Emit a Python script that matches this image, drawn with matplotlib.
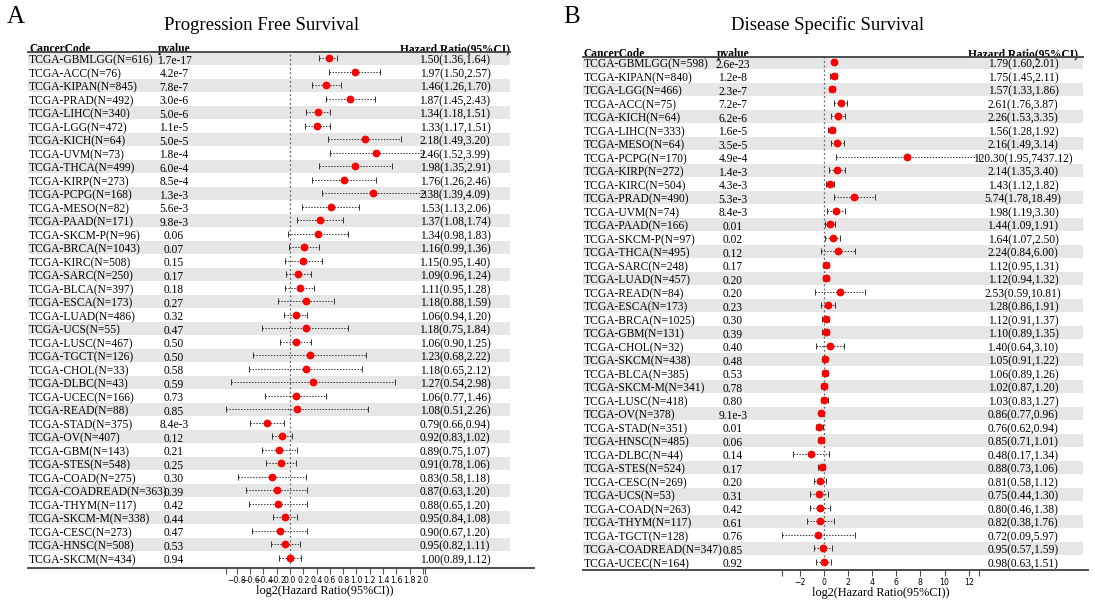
import numpy as np
import matplotlib
matplotlib.use("Agg")
import matplotlib.pyplot as plt
from matplotlib.ticker import MultipleLocator, FixedLocator
from matplotlib.transforms import blended_transform_factory

plt.rcParams['font.family'] = ['Liberation Serif', 'DejaVu Serif']

# ---------------- Panel A: Progression Free Survival ----------------
pfs_codes = ["GBMLGG", "ACC", "KIPAN", "PRAD", "LIHC", "LGG", "KICH", "UVM", "THCA", "KIRP",
             "PCPG", "MESO", "PAAD", "SKCM-P", "BRCA", "KIRC", "SARC", "BLCA", "ESCA", "LUAD",
             "UCS", "LUSC", "TGCT", "CHOL", "DLBC", "UCEC", "READ", "STAD", "OV", "GBM",
             "STES", "COAD", "COADREAD", "THYM", "SKCM-M", "CESC", "HNSC", "SKCM"]
pfs_n = [616, 76, 845, 492, 340, 472, 64, 73, 499, 273,
         168, 82, 171, 96, 1043, 508, 250, 397, 173, 486,
         55, 467, 126, 33, 43, 166, 88, 375, 407, 143,
         548, 275, 363, 117, 338, 273, 508, 434]
pfs_p = ["1.7e-17", "4.2e-7", "7.8e-7", "3.0e-6", "5.0e-6", "1.1e-5", "5.0e-5", "1.8e-4", "6.0e-4", "8.5e-4",
         "1.3e-3", "5.6e-3", "9.8e-3", "0.06", "0.07", "0.15", "0.17", "0.18", "0.27", "0.32",
         "0.47", "0.50", "0.50", "0.58", "0.59", "0.73", "0.85", "8.4e-3", "0.12", "0.21",
         "0.25", "0.30", "0.39", "0.42", "0.44", "0.47", "0.53", "0.94"]
pfs_hr = [1.50, 1.97, 1.46, 1.87, 1.34, 1.33, 2.18, 2.46, 1.98, 1.76,
          2.38, 1.53, 1.37, 1.34, 1.16, 1.15, 1.09, 1.11, 1.18, 1.06,
          1.18, 1.06, 1.23, 1.18, 1.27, 1.06, 1.08, 0.79, 0.92, 0.89,
          0.91, 0.83, 0.87, 0.88, 0.95, 0.90, 0.95, 1.00]
pfs_lo = [1.36, 1.50, 1.26, 1.45, 1.18, 1.17, 1.49, 1.52, 1.35, 1.26,
          1.39, 1.13, 1.08, 0.98, 0.99, 0.95, 0.96, 0.95, 0.88, 0.94,
          0.75, 0.90, 0.68, 0.65, 0.54, 0.77, 0.51, 0.66, 0.83, 0.75,
          0.78, 0.58, 0.63, 0.65, 0.84, 0.67, 0.82, 0.89]
pfs_hi = [1.64, 2.57, 1.70, 2.43, 1.51, 1.51, 3.20, 3.99, 2.91, 2.46,
          4.09, 2.06, 1.74, 1.83, 1.36, 1.40, 1.24, 1.28, 1.59, 1.20,
          1.84, 1.25, 2.22, 2.12, 2.98, 1.46, 2.26, 0.94, 1.02, 1.07,
          1.06, 1.18, 1.20, 1.20, 1.08, 1.20, 1.11, 1.12]

# ---------------- Panel B: Disease Specific Survival ----------------
dss_codes = ["GBMLGG", "KIPAN", "LGG", "ACC", "KICH", "LIHC", "MESO", "PCPG", "KIRP", "KIRC",
             "PRAD", "UVM", "PAAD", "SKCM-P", "THCA", "SARC", "LUAD", "READ", "ESCA", "BRCA",
             "GBM", "CHOL", "SKCM", "BLCA", "SKCM-M", "LUSC", "OV", "STAD", "HNSC", "DLBC",
             "STES", "CESC", "UCS", "COAD", "THYM", "TGCT", "COADREAD", "UCEC"]
dss_n = [598, 840, 466, 75, 64, 333, 64, 170, 272, 504,
         490, 74, 166, 97, 495, 248, 457, 84, 173, 1025,
         131, 32, 438, 385, 341, 418, 378, 351, 485, 44,
         524, 269, 53, 263, 117, 128, 347, 164]
dss_p = ["2.6e-23", "1.2e-8", "2.3e-7", "7.2e-7", "6.2e-6", "1.6e-5", "3.5e-5", "4.9e-4", "1.4e-3", "4.3e-3",
         "5.3e-3", "8.4e-3", "0.01", "0.02", "0.12", "0.17", "0.20", "0.20", "0.23", "0.30",
         "0.39", "0.40", "0.48", "0.53", "0.78", "0.80", "9.1e-3", "0.01", "0.06", "0.14",
         "0.17", "0.20", "0.31", "0.42", "0.61", "0.76", "0.85", "0.92"]
dss_hr = [1.79, 1.75, 1.57, 2.61, 2.26, 1.56, 2.16, 120.30, 2.14, 1.43,
          5.74, 1.98, 1.44, 1.64, 2.24, 1.12, 1.12, 2.53, 1.28, 1.12,
          1.10, 1.40, 1.05, 1.06, 1.02, 1.03, 0.86, 0.76, 0.85, 0.48,
          0.88, 0.81, 0.75, 0.80, 0.82, 0.72, 0.95, 0.98]
dss_lo = [1.60, 1.45, 1.33, 1.76, 1.53, 1.28, 1.49, 1.95, 1.35, 1.12,
          1.78, 1.19, 1.09, 1.07, 0.84, 0.95, 0.94, 0.59, 0.86, 0.91,
          0.89, 0.64, 0.91, 0.89, 0.87, 0.83, 0.77, 0.62, 0.71, 0.17,
          0.73, 0.58, 0.44, 0.46, 0.38, 0.09, 0.57, 0.63]
dss_hi = [2.01, 2.11, 1.86, 3.87, 3.35, 1.92, 3.14, 7437.12, 3.40, 1.82,
          18.49, 3.30, 1.91, 2.50, 6.00, 1.31, 1.32, 10.81, 1.91, 1.37,
          1.35, 3.10, 1.22, 1.26, 1.20, 1.27, 0.96, 0.94, 1.01, 1.34,
          1.06, 1.12, 1.30, 1.38, 1.76, 5.97, 1.59, 1.51]

W, H = 1095, 601
fig = plt.figure(figsize=(W / 100, H / 100), dpi=100)


def add_px_axes(x0, x1, y0, y1):
    return fig.add_axes([x0 / W, 1 - y1 / H, (x1 - x0) / W, (y1 - y0) / H])


def draw_panel(letter, title, codes, ns, pvals, hr, lo, hi, lay):
    n = len(codes)
    row0, sp = lay["row0"], lay["sp"]
    ylim = ((lay["bot"] - row0) / sp, (lay["top"] - row0) / sp)

    # table axes (background, stripes, text)
    tab = add_px_axes(lay["L"], lay["R"], lay["top"], lay["bot"])
    tab.set_xlim(lay["L"], lay["R"])
    tab.set_ylim(*ylim)
    tab.axis("off")
    for i in range(0, n, 2):
        tab.axhspan(i - 0.5, i + 0.5, color="#e6e6e6", lw=0, zorder=0)
    tr = blended_transform_factory(tab.transData, tab.transAxes)
    fs = 8.3
    tab.text(lay["xc"], 1.0, "CancerCode", transform=tr, ha="left", va="baseline",
             fontsize=fs, fontweight="bold")
    tab.text(lay["xp"], 1.0, "pvalue", transform=tr, ha="center", va="baseline",
             fontsize=fs, fontweight="bold")
    tab.text(lay["xh"], 1.0, "Hazard Ratio(95%CI)", transform=tr, ha="center", va="baseline",
             fontsize=fs, fontweight="bold")
    for i in range(n):
        yy = i + 0.17
        tab.text(lay["xc"], yy, f"TCGA-{codes[i]}(N={ns[i]})", ha="left", va="center", fontsize=fs)
        tab.text(lay["xp"], yy, pvals[i], ha="center", va="center", fontsize=fs)
        tab.text(lay["xh"], yy, f"{hr[i]:.2f}({lo[i]:.2f},{hi[i]:.2f})", ha="center",
                 va="center", fontsize=fs)
    # header and bottom rules
    tab.plot([0, 1], [1, 1], transform=tab.transAxes, color="#4d4d4d", lw=1.4,
             clip_on=False, zorder=3)
    tab.plot([0, lay["bx"]], [0, 0], transform=tab.transAxes, color="#4d4d4d", lw=1.4,
             clip_on=False, zorder=3)

    # forest axes
    lhr, llo, lhi = np.log2(hr), np.log2(lo), np.log2(hi)
    fa = add_px_axes(lay["f0"], lay["f1"], lay["top"], lay["bot"])
    fa.patch.set_alpha(0)
    fa.set_xlim(llo.min(), lhi.max())
    fa.set_ylim(*ylim)
    y = np.arange(n)
    fa.axvline(0, color="#666666", ls=(0, (1.5, 2)), lw=0.9, zorder=1)
    eb = fa.errorbar(lhr, y, xerr=[lhr - llo, lhi - lhr], fmt="none", ecolor="#333333",
                     elinewidth=0.7, capsize=2.2, capthick=0.7, zorder=2)
    for lc in eb[2]:
        lc.set_linestyle((0, (1.5, 1.5)))
    fa.plot(lhr, y, "o", color="#ff0000", ms=4.6, mec="#ff0000", zorder=3)
    for s in fa.spines.values():
        s.set_visible(False)
    fa.set_yticks([])
    fa.xaxis.set_major_locator(MultipleLocator(lay["step"]))
    fa.xaxis.set_minor_locator(FixedLocator([llo.min(), lhi.max()]))
    fa.tick_params(axis="x", which="both", direction="out", length=4, width=0.8,
                   color="#4d4d4d", pad=1.5)
    fa.tick_params(axis="x", which="major", labelsize=5.6)
    for t in fa.get_xticklabels():
        t.set_fontfamily("DejaVu Sans")
    fa.set_xlabel("log2(Hazard Ratio(95%CI))", fontsize=8.8, labelpad=0)

    fig.text(lay["tx"] / W, 1 - 25 / H, title, ha="center", va="center", fontsize=13.5)
    fig.text(lay["lx"] / W, 1 - 17 / H, letter, ha="left", va="center", fontsize=18)


lay_a = dict(L=28, R=510, top=52, bot=568, row0=58.3, sp=13.5, xc=29, xp=174, xh=455,
             f0=225.5, f1=425, step=0.2, tx=262, lx=7, bx=1.05)
lay_b = dict(L=583, R=1083, top=57, bot=570, row0=62.3, sp=13.5, xc=584, xp=733, xh=1023,
             f0=782, f1=979, step=2, tx=828, lx=563, bx=1.01)

draw_panel("A", "Progression Free Survival", pfs_codes, pfs_n, pfs_p, pfs_hr, pfs_lo, pfs_hi, lay_a)
draw_panel("B", "Disease Specific Survival", dss_codes, dss_n, dss_p, dss_hr, dss_lo, dss_hi, lay_b)

fig.savefig("out.png", dpi=100)
